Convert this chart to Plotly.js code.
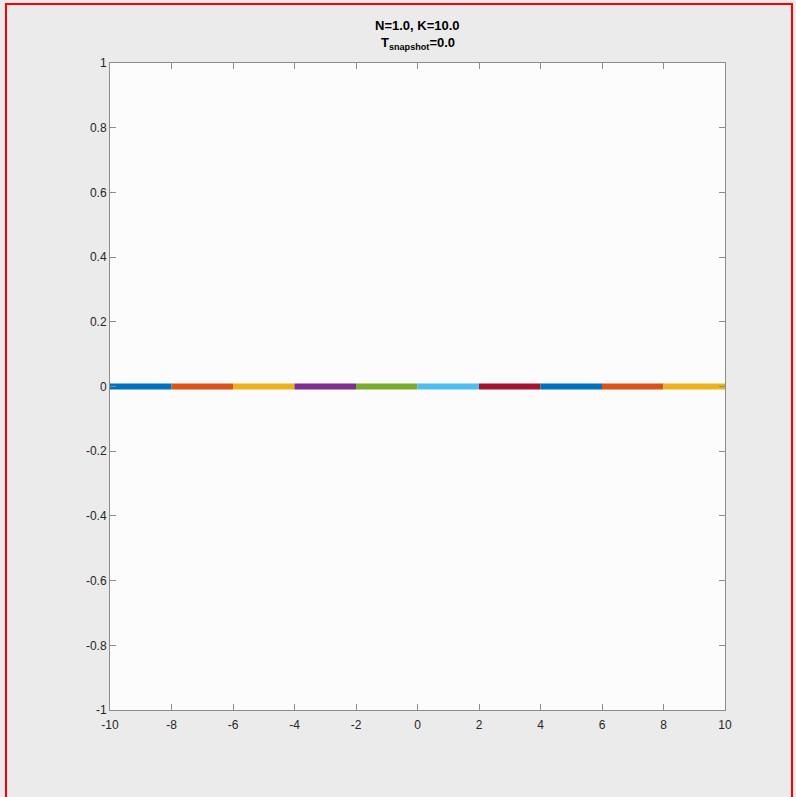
<!DOCTYPE html>
<html>
<head>
<meta charset="utf-8">
<script src="https://cdn.plot.ly/plotly-3.0.1.min.js"></script>
<style>
  html, body { margin: 0; padding: 0; background: #ECEBEC; overflow: hidden; }
  #wrap { position: relative; width: 796px; height: 797px; }
  #chart { position: absolute; left: 0; top: 0; width: 796px; height: 797px; }
  #frame { position: absolute; left: 5px; top: 3px; width: 788px; height: 800px;
           border: 2px solid #FF0000; box-sizing: border-box; pointer-events: none; }
</style>
</head>
<body>
<div id="wrap">
  <div id="chart"></div>
  <div id="frame"></div>
</div>
<script>
// Segment boundaries along x (each segment drawn as its own line) and y value
const segStart = [-10, -8, -6, -4, -2, 0, 2, 4, 6, 8];
const segEnd   = [-8, -6, -4, -2, 0, 2, 4, 6, 8, 10];
const segY     = [0, 0, 0, 0, 0, 0, 0, 0, 0, 0];
const segColors = ['#0072BD', '#D95319', '#EDB120', '#7E2F8E', '#77AC30',
                   '#4DBEEE', '#A2142F', '#0072BD', '#D95319', '#EDB120'];

const xTickVals = [-10, -8, -6, -4, -2, 0, 2, 4, 6, 8, 10];
const xTickText = ['-10', '-8', '-6', '-4', '-2', '0', '2', '4', '6', '8', '10'];
const yTickVals = [-1, -0.8, -0.6, -0.4, -0.2, 0, 0.2, 0.4, 0.6, 0.8, 1];
const yTickText = ['-1', '-0.8', '-0.6', '-0.4', '-0.2', '0', '0.2', '0.4', '0.6', '0.8', '1'];

const titleLine1 = '<b>N=1.0, K=10.0</b>';
const titleLine2 = '<b>T<sub>snapshot</sub>=0.0</b>';

const fontFam = 'Liberation Sans, Arial, Helvetica, sans-serif';

const traces = segStart.map((s, i) => ({
  x: [s, segEnd[i]],
  y: [segY[i], segY[i]],
  mode: 'lines',
  type: 'scatter',
  line: { color: segColors[i], width: 6 },
  showlegend: false,
  hoverinfo: 'skip'
}));

const axisCommon = {
  showgrid: false,
  zeroline: false,
  showline: true,
  linecolor: '#8C8C8C',
  linewidth: 1,
  mirror: 'ticks',
  ticks: 'inside',
  ticklen: 6,
  tickwidth: 1,
  tickcolor: '#8C8C8C',
  tickfont: { family: fontFam, size: 12, color: '#262626' },
  tickmode: 'array'
};

const layout = {
  width: 796,
  height: 797,
  paper_bgcolor: '#ECEBEC',
  plot_bgcolor: '#FDFCFD',
  margin: { l: 110, r: 71, t: 63, b: 87 },
  annotations: [
    { text: titleLine1, xref: 'paper', yref: 'paper', x: 0.5, y: 1.0587,
      xanchor: 'center', yanchor: 'middle', showarrow: false,
      font: { family: fontFam, size: 13, color: '#000000' } },
    { text: titleLine2, xref: 'paper', yref: 'paper', x: 0.5, y: 1.0294,
      xanchor: 'center', yanchor: 'middle', showarrow: false,
      font: { family: fontFam, size: 13, color: '#000000' } }
  ],
  xaxis: Object.assign({}, axisCommon, {
    range: [-10, 10],
    tickvals: xTickVals,
    ticktext: xTickText,
    ticklabelstandoff: 4
  }),
  yaxis: Object.assign({}, axisCommon, {
    range: [-1, 1],
    tickvals: yTickVals,
    ticktext: yTickText
  })
};

Plotly.newPlot('chart', traces, layout, { displayModeBar: false, staticPlot: true });
</script>
</body>
</html>
